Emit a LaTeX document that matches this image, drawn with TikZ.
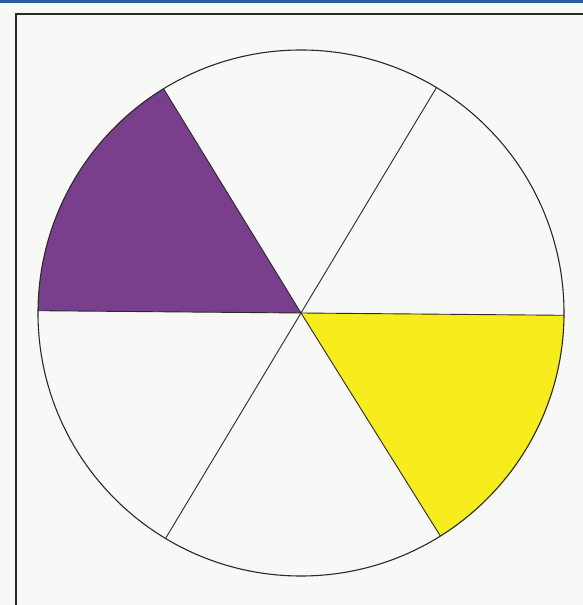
\documentclass[tikz,border=0pt]{standalone}
\definecolor{bgcol}{HTML}{F8F8F6}
\definecolor{barblue}{HTML}{2F5C9C}
\definecolor{purp}{HTML}{7A3F8C}
\definecolor{yell}{HTML}{F7EC1C}
\definecolor{inkc}{HTML}{2A2A2A}
\tikzset{spoke/.style={draw=inkc,line width=0.9pt},
         rim/.style={draw=inkc,line width=1.1pt},
         framebox/.style={draw=inkc,line width=1.6pt}}
\begin{document}
\begin{tikzpicture}[x=1pt,y=1pt]
\useasboundingbox (0,0) rectangle (583,605);
\fill[bgcol] (0,0) rectangle (583,605);
\fill[barblue] (0,601.5) rectangle (583,605);
\draw[framebox] (16,0) -- (16,591) -- (583,591);
\coordinate (c) at (301,292);
\def\R{263}
\fill[purp] (c) -- ++(179.5:\R) arc[start angle=179.5,end angle=121.5,radius=\R] -- cycle;
\fill[yell] (c) -- ++(-0.5:\R) arc[start angle=-0.5,end angle=-58,radius=\R] -- cycle;
\foreach \a in {-0.5,59,121.5,179.5,239,302}{
  \draw[spoke] (c) -- ++(\a:\R);
}
\draw[rim] (c) circle[radius=\R];
\end{tikzpicture}
\end{document}
